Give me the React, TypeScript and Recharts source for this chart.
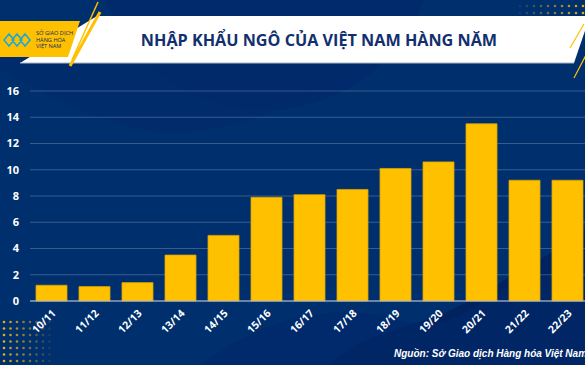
import React from 'react';
import { BarChart, Bar, XAxis, YAxis, CartesianGrid } from 'recharts';

const seasons = ['10/11', '11/12', '12/13', '13/14', '14/15', '15/16', '16/17', '17/18', '18/19', '19/20', '20/21', '21/22', '22/23'];
const imports = [1.2, 1.1, 1.4, 3.5, 5.0, 7.9, 8.1, 8.5, 10.1, 10.6, 13.5, 9.2, 9.2];
const yTicks = [0, 2, 4, 6, 8, 10, 12, 14, 16];

const data = seasons.map((season, i) => ({ season, value: imports[i] }));

const NAVY = '#002f6e';
const GOLD = '#ffc000';

function SeasonTick({ x, y, payload }: any) {
  return (
    <text
      transform={`translate(${x + 5},${y + 5}) rotate(-45)`}
      textAnchor="end"
      fill="#ffffff"
      fontSize={10.5}
      fontWeight={700}
      fontFamily="'Open Sans', sans-serif"
    >
      {payload.value}
    </text>
  );
}

function Dots({ x0, y0, cols, rows, step, fadeX }: { x0: number; y0: number; cols: number; rows: number; step: number; fadeX: boolean }) {
  const out = [];
  for (let r = 0; r < rows; r++) {
    for (let c = 0; c < cols; c++) {
      const o = fadeX ? 1 - c / cols : (c + 1) / cols;
      out.push(<circle key={`${r}-${c}`} cx={x0 + c * step} cy={y0 + r * step} r={1.3} fill={GOLD} opacity={o * 0.9} />);
    }
  }
  return <g>{out}</g>;
}

function Backdrop() {
  return (
    <svg width={585} height={365} style={{ position: 'absolute', left: 0, top: 0 }}>
      <rect width={585} height={365} fill={NAVY} />
      <circle cx={265} cy={-60} r={170} fill="#00286a" opacity={0.7} />
      <path d="M0,70 C60,100 120,140 200,130 C300,120 340,60 420,40 L0,40 Z" fill="#002a69" opacity={0.5} />
      <path d="M330,365 C360,330 420,330 470,300 C520,270 560,250 585,230 L585,365 Z" fill="#00225e" opacity={0.9} />
      <path d="M200,365 C260,320 330,300 400,320 C450,335 480,300 520,280 L585,270 L585,365 Z" fill="#01286a" opacity={0.6} />
      <Dots x0={4} y0={322} cols={8} rows={7} step={6.5} fadeX={true} />
      <Dots x0={520} y0={6} cols={10} rows={2} step={7} fadeX={false} />
      <polygon points="97,16 590,16 574,63 20,63" fill="#ffffff" />
      <line x1={20} y1={63} x2={574} y2={63} stroke="#aab6cc" strokeWidth={1.2} />
      <polygon points="0,21 80,21 68,57 0,57" fill={GOLD} />
      <g fill="none" stroke="#1ba9d8" strokeWidth={1.6}>
        <path d="M4,40 L9,34 L14,40 L9,46 Z M12,40 L17,34 L22,40 L17,46 Z M20,40 L25,34 L30,40 L25,46 Z" />
      </g>
      <g fill="#0c2a66" fontSize={5.6} fontFamily="'Open Sans', sans-serif">
        <text x={36} y={35}>SỞ GIAO DỊCH</text>
        <text x={36} y={41.5}>HÀNG HÓA</text>
        <text x={36} y={48}>VIỆT NAM</text>
      </g>
      <line x1={98} y1={2} x2={72} y2={60} stroke={GOLD} strokeWidth={1.5} />
      <line x1={100} y1={12} x2={70} y2={66} stroke={GOLD} strokeWidth={3} />
      <line x1={584} y1={24} x2={570} y2={48} stroke={GOLD} strokeWidth={1.2} />
      <line x1={586} y1={55} x2={574} y2={78} stroke={GOLD} strokeWidth={1.2} />
      <text
        x={319}
        y={46}
        textAnchor="middle"
        fill="#13306e"
        fontSize={16.2}
        fontWeight={700}
        fontFamily="'Open Sans', sans-serif"
      >
        NHẬP KHẨU NGÔ CỦA VIỆT NAM HÀNG NĂM
      </text>
      <text
        x={394}
        y={357}
        fill="#ffffff"
        fontSize={10}
        fontWeight={700}
        fontStyle="italic"
        fontFamily="'Liberation Sans', Arial, sans-serif"
      >
        Nguồn: Sở Giao dịch Hàng hóa Việt Nam (MXV)
      </text>
    </svg>
  );
}

export default function App() {
  return (
    <div style={{ position: 'absolute', left: 0, top: 0, width: 585, height: 365, overflow: 'hidden' }}>
      <Backdrop />
      <div style={{ position: 'absolute', left: 0, top: 0 }}>
        <BarChart
          width={600}
          height={365}
          data={data}
          margin={{ top: 91, right: 11, left: 0, bottom: 34 }}
          barSize={31}
        >
          <CartesianGrid vertical={false} stroke="rgba(255,255,255,0.22)" strokeWidth={1} />
          <XAxis
            dataKey="season"
            height={30}
            interval={0}
            tickLine={false}
            axisLine={{ stroke: '#b9c4d8', strokeWidth: 1.2 }}
            tick={<SeasonTick />}
          />
          <YAxis
            width={30}
            domain={[0, 16]}
            ticks={yTicks}
            interval={0}
            axisLine={false}
            tickLine={false}
            tickSize={0}
            tickMargin={11}
            tick={{ fill: '#ffffff', fontSize: 11, fontWeight: 700, fontFamily: "'Open Sans', sans-serif" }}
          />
          <Bar dataKey="value" fill={GOLD} stroke="#d8a400" strokeWidth={0.8} isAnimationActive={false} />
        </BarChart>
      </div>
    </div>
  );
}
